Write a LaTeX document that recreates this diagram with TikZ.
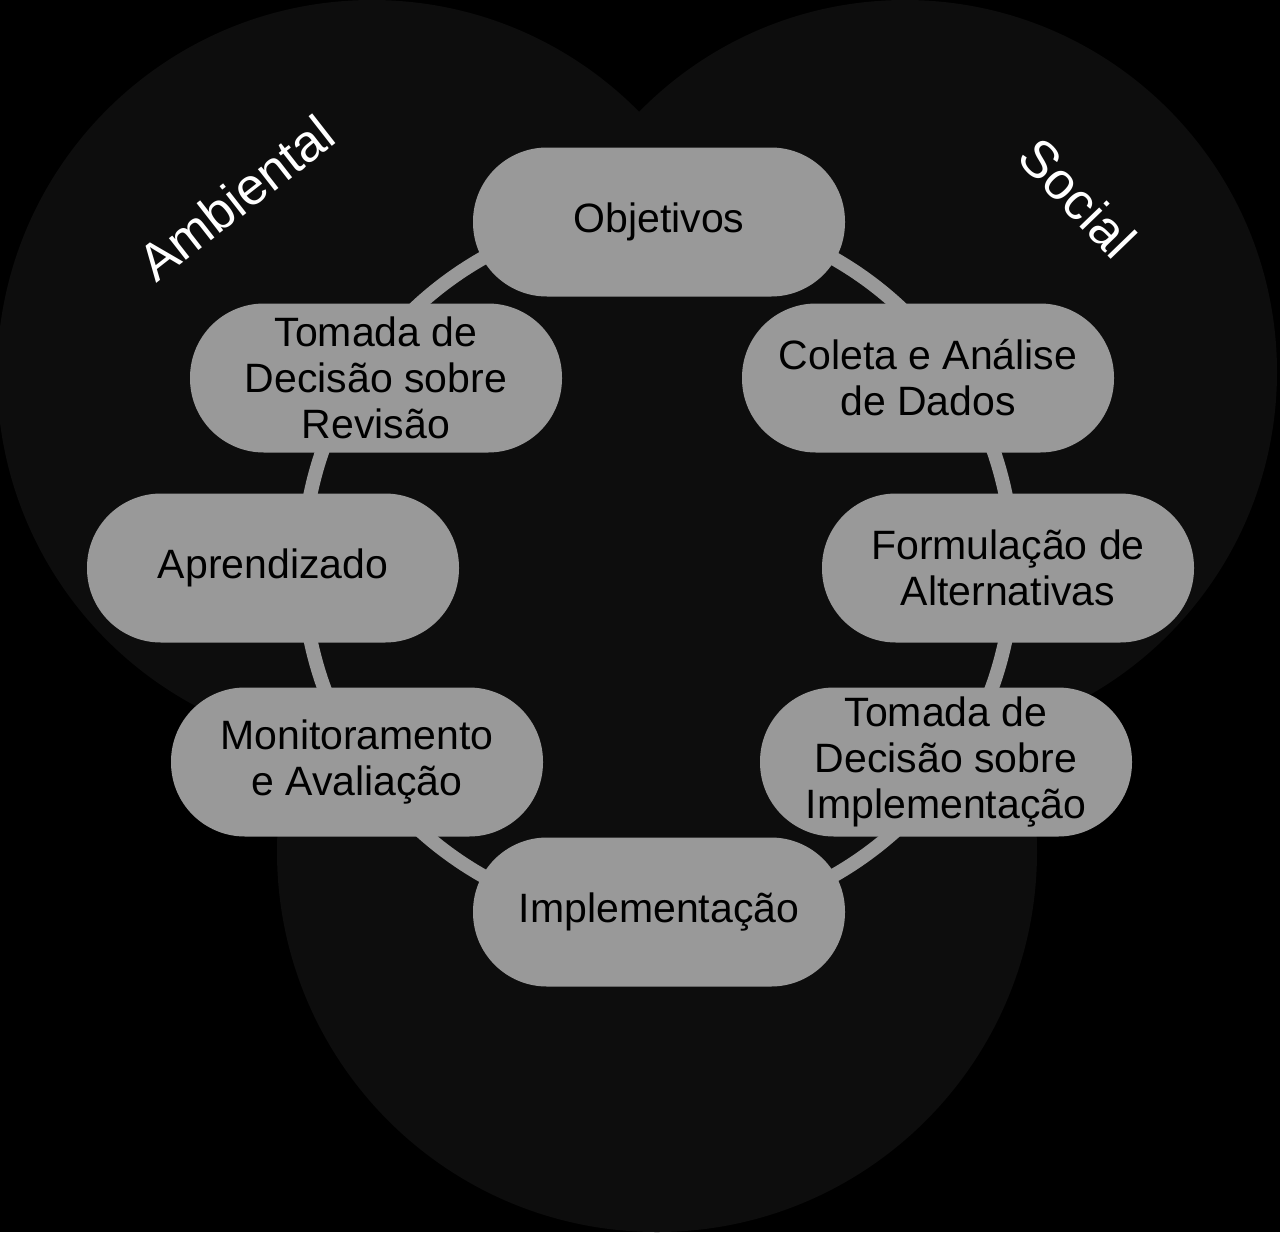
\documentclass[tikz,border=0pt]{standalone}
\usepackage{fontspec}
\setmainfont{Liberation Sans}

\begin{document}
\begin{tikzpicture}[x=1pt,y=-1pt,
                    region/.style={fill=black!95!white},
                    ring/.style={draw=black!40!white,line width=14pt},
                    stage/.style={fill=black!40!white,rounded corners=74pt,minimum width=372pt,minimum height=149pt,
                                  inner sep=0pt,align=center,font=\fontsize{41}{46}\selectfont},
                    sphere label/.style={text=white,inner sep=0pt,font=\fontsize{52}{56}\selectfont}
]
\fill[black] (0,0) rectangle (1280,1232);
\useasboundingbox (0,0) rectangle (1280,1232);
%
\coordinate (amb) at (372,375);
\coordinate (soc) at (905,372);
\coordinate (eco) at (657,852);
\fill[region] (amb) circle (375pt) (soc) circle (372pt) (eco) circle (380pt);
%
\node[sphere label, rotate=38] (ambiental) at (236,198) {Ambiental};
\node[sphere label, rotate=-46] (social) at (1078,198) {Social};
%
\coordinate (hub) at (658,567);
\draw[ring] (hub) circle (355pt);
%
\node[stage] (obj) at (659,222) {Objetivos};
\node[stage] (coleta) at (928,378) {Coleta e Análise\\de Dados};
\node[stage] (formul) at (1008,568) {Formulação de\\Alternativas};
\node[stage] (decimpl) at (946,762) {Tomada de\\Decisão sobre\\Implementação};
\node[stage] (impl) at (659,912) {Implementação};
\node[stage] (monit) at (357,762) {Monitoramento\\e Avaliação};
\node[stage] (aprend) at (273,568) {Aprendizado};
\node[stage] (decrev) at (376,378) {Tomada de\\Decisão sobre\\Revisão};
\end{tikzpicture}
\end{document}
